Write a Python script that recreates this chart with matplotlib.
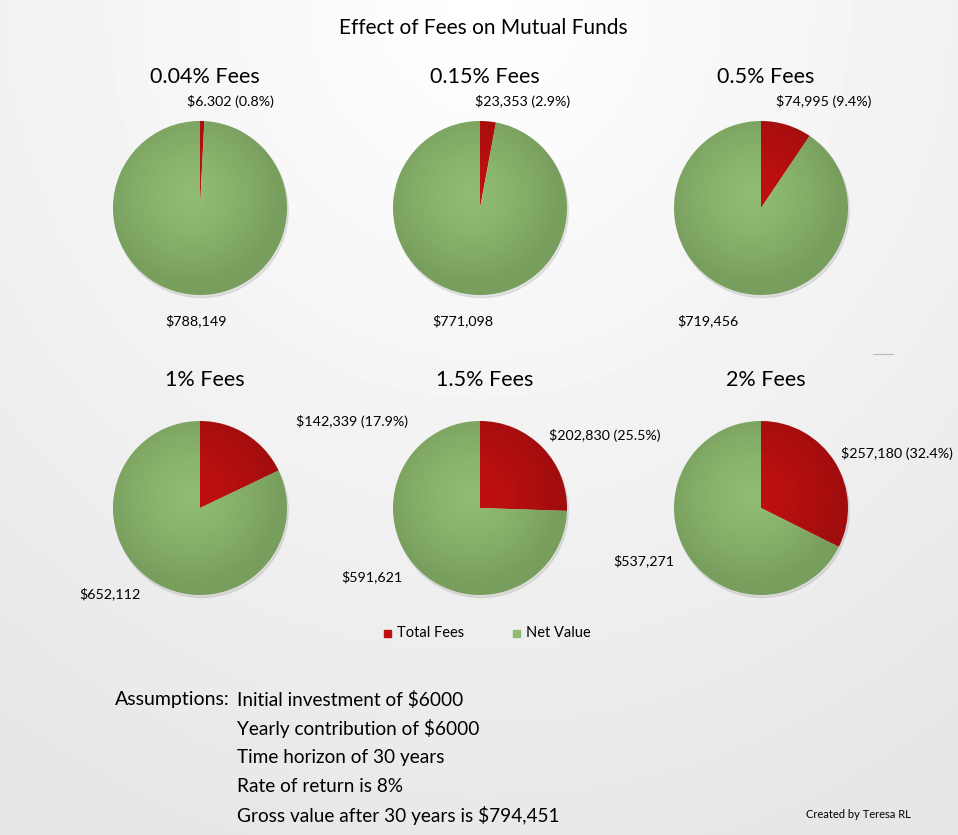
import numpy as np
import matplotlib.pyplot as plt
from matplotlib.patches import Circle

plt.rcParams['font.family'] = ['Lato', 'DejaVu Sans']

# data
titles = ["0.04% Fees", "0.15% Fees", "0.5% Fees", "1% Fees", "1.5% Fees", "2% Fees"]
total_fees = [6302, 23353, 74995, 142339, 202830, 257180]
net_value = [788149, 771098, 719456, 652112, 591621, 537271]
fee_labels = ["$6.302 (0.8%)", "$23,353 (2.9%)", "$74,995 (9.4%)",
              "$142,339 (17.9%)", "$202,830 (25.5%)", "$257,180 (32.4%)"]
net_labels = ["$788,149", "$771,098", "$719,456", "$652,112", "$591,621", "$537,271"]
legend_names = ["Total Fees", "Net Value"]
assumptions = ["Initial investment of $6000",
               "Yearly contribution of $6000",
               "Time horizon of 30 years",
               "Rate of return is 8%",
               "Gross value after 30 years is $794,451"]

# layout (pixels, image coords)
W, H = 958, 835
R = 87
centers = [(200, 208), (480, 208), (761, 208), (200, 508), (480, 508), (761, 508)]
fee_pos = [(187, 101), (475, 101), (776, 101), (296, 422), (549, 435), (841, 453)]
net_pos = [(165, 321), (432, 321), (677, 321), (79, 594), (341, 577), (613, 561)]
red = "#C01010"
green = "#8FBC70"

fig = plt.figure(figsize=(W / 100, H / 100), dpi=100)

def fx(x):
    return x / W

def fy(y):
    return 1 - y / H

# background gradient
bg = fig.add_axes([0, 0, 1, 1])
yy, xx = np.mgrid[0:1:200j, 0:1:200j]
shade = 1 - 0.10 * np.clip(np.sqrt(((xx - 0.5) * 1.1) ** 2 + (yy * 0.9) ** 2), 0, 1)
bg.imshow(shade, cmap="gray", vmin=0, vmax=1, extent=[0, 1, 0, 1], aspect="auto")
bg.axis("off")
bg.plot([873 / W, 893 / W], [fy(354), fy(354)], color="#bbbbbb", lw=0.8)
bg.set_xlim(0, 1)
bg.set_ylim(0, 1)

gy, gx = np.mgrid[-1:1:200j, -1:1:200j]
light = np.clip(1 - np.sqrt((gx + 0.1) ** 2 + (gy - 0.15) ** 2), 0, 1)

for i in range(6):
    cx, cy = centers[i]
    ax = fig.add_axes([fx(cx - R * 1.1), fy(cy + R * 1.1), 2.2 * R / W, 2.2 * R / H])
    # soft shadow
    ax.add_patch(Circle((0.015, -0.03), 1.0, color="#000000", alpha=0.08, zorder=0))
    ax.pie([total_fees[i], net_value[i]], colors=[red, green],
           startangle=90, counterclock=False, radius=1.0,
           wedgeprops=dict(linewidth=0))
    # shading overlay
    ov = ax.imshow(np.dstack([np.zeros_like(light)] * 3 + [0.16 * (1 - light) ** 1.5]),
                   extent=[-1, 1, 1, -1], zorder=3)
    ov.set_clip_path(Circle((0, 0), 1.0, transform=ax.transData))
    ax.set_xlim(-1.1, 1.1)
    ax.set_ylim(-1.1, 1.1)
    ax.set_aspect("equal")
    ax.axis("off")

    ty = 77 if i < 3 else 380
    fig.text(fx(cx + 5), fy(ty), titles[i], ha="center", va="center", fontsize=15.5)
    fig.text(fx(fee_pos[i][0]), fy(fee_pos[i][1]), fee_labels[i],
             ha="left", va="center", fontsize=10.3)
    fig.text(fx(net_pos[i][0]), fy(net_pos[i][1]), net_labels[i],
             ha="left", va="center", fontsize=10.3)

fig.text(fx(483), fy(28), "Effect of Fees on Mutual Funds", ha="center", va="center", fontsize=15)

# legend
for name, col, lx in zip(legend_names, [red, green], [388, 517]):
    bg.add_patch(plt.Rectangle((fx(lx - 4), fy(637)), 7 / W, 7 / H, color=col))
    fig.text(fx(lx + 9), fy(633), name, ha="left", va="center", fontsize=10.5)

fig.text(fx(230), fy(700), "Assumptions:", ha="right", va="center", fontsize=14)
for k, line in enumerate(assumptions):
    fig.text(fx(237), fy(700 + 28.8 * k), line, ha="left", va="center", fontsize=13.7)

fig.text(fx(806), fy(815), "Created by Teresa RL", ha="left", va="center", fontsize=8)

fig.savefig("out.png", dpi=100)
